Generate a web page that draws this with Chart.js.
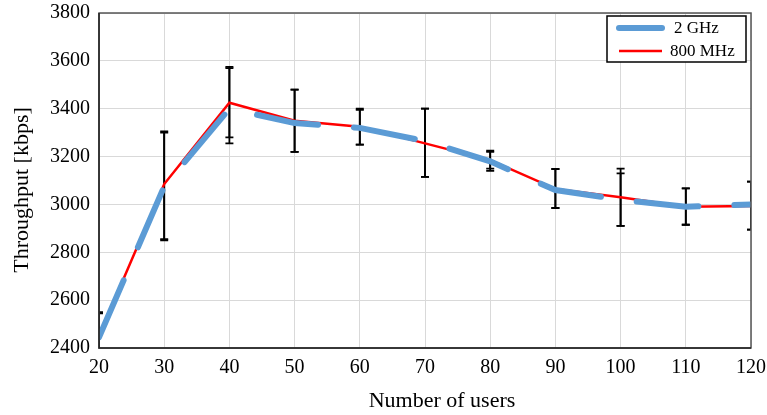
<!DOCTYPE html>
<html>
<head>
<meta charset="utf-8">
<script src="https://cdn.jsdelivr.net/npm/chart.js@4/dist/chart.umd.min.js"></script>
<style>
  html, body { margin: 0; padding: 0; background: #fff; }
  #wrap { width: 767px; height: 415px; }
</style>
</head>
<body>
<div id="wrap"><canvas id="chart" width="767" height="415"></canvas></div>
<script>
"use strict";

const users = [20, 30, 40, 50, 60, 70, 80, 90, 100, 110, 120];

const ghz2 = [2445, 3075, 3400, 3340, 3320, 3265, 3180, 3060, 3020, 2990, 3000];
const ghz2Hi = [2550, 3305, 3575, 3480, 3400, 3400, 3225, 3148, 3150, 3067, 3095];
const ghz2Lo = [2350, 2855, 3280, 3220, 3250, 3115, 3150, 2985, 2910, 2915, 2895];

const mhz800 = [2450, 3085, 3425, 3350, 3325, 3255, 3185, 3065, 3030, 2990, 2993];
const mhz800Hi = [2545, 3300, 3570, 3480, 3395, 3400, 3220, 3148, 3130, 3067, 3095];
const mhz800Lo = [2350, 2850, 3255, 3220, 3250, 3115, 3140, 2985, 2910, 2915, 2895];

const FONT = "'Liberation Serif', 'Times New Roman', serif";

function pts(ys) { return users.map((x, i) => ({ x, y: ys[i] })); }

// Error bars, clipped to the plot area, drawn under the lines.
const errorBars = {
  id: "errorBars",
  beforeDatasetsDraw(chart) {
    const { ctx, chartArea: a, scales: { x, y } } = chart;
    ctx.save();
    ctx.beginPath();
    ctx.rect(a.left, a.top, a.right - a.left, a.bottom - a.top);
    ctx.clip();
    ctx.strokeStyle = "#000";
    ctx.lineWidth = 1.8;
    chart.data.datasets.forEach((ds) => {
      users.forEach((u, i) => {
        const px = x.getPixelForValue(u);
        const hi = y.getPixelForValue(ds.errHi[i]);
        const lo = y.getPixelForValue(ds.errLo[i]);
        ctx.beginPath();
        ctx.moveTo(px, hi); ctx.lineTo(px, lo);
        ctx.moveTo(px - 4, hi); ctx.lineTo(px + 4, hi);
        ctx.moveTo(px - 4, lo); ctx.lineTo(px + 4, lo);
        ctx.stroke();
      });
    });
    ctx.restore();
  },
};

// Plot frame, axis titles and the boxed legend.
const decor = {
  id: "decor",
  afterDraw(chart) {
    const { ctx, chartArea: a } = chart;
    ctx.save();
    ctx.strokeStyle = "#555";
    ctx.lineWidth = 1.5;
    ctx.strokeRect(a.left, a.top, a.right - a.left, a.bottom - a.top);
    ctx.strokeStyle = "#222";
    ctx.beginPath();
    ctx.moveTo(a.left, a.top); ctx.lineTo(a.left, a.bottom); ctx.lineTo(a.right, a.bottom);
    ctx.stroke();

    ctx.fillStyle = "#000";
    ctx.font = "22px " + FONT;
    ctx.textAlign = "center";
    ctx.textBaseline = "alphabetic";
    ctx.fillText("Number of users", 442, 407);
    ctx.save();
    ctx.translate(28, 190);
    ctx.rotate(-Math.PI / 2);
    ctx.fillText("Throughput [kbps]", 0, 0);
    ctx.restore();

    // legend
    const lx = 607, ly = 16, lw = 139, lh = 46;
    ctx.fillStyle = "#fff";
    ctx.fillRect(lx, ly, lw, lh);
    ctx.strokeStyle = "#000";
    ctx.lineWidth = 1.5;
    ctx.strokeRect(lx, ly, lw, lh);
    chart.data.datasets.forEach((ds, i) => {
      const yy = ly + 12 + i * 23;
      ctx.strokeStyle = ds.borderColor;
      ctx.lineWidth = ds.borderWidth;
      ctx.lineCap = ds.borderCapStyle || "butt";
      ctx.beginPath();
      ctx.moveTo(lx + 12, yy); ctx.lineTo(lx + 55, yy);
      ctx.stroke();
      ctx.fillStyle = "#000";
      ctx.font = "17px " + FONT;
      ctx.textAlign = "left";
      ctx.textBaseline = "middle";
      ctx.fillText(ds.label, i === 0 ? lx + 67 : lx + 63, yy + 1);
    });
    ctx.restore();
  },
};

new Chart(document.getElementById("chart"), {
  type: "line",
  data: {
    datasets: [
      {
        label: "2 GHz",
        data: pts(ghz2),
        errHi: ghz2Hi,
        errLo: ghz2Lo,
        borderColor: "#5b9bd5",
        borderWidth: 6,
        borderDash: [62, 36],
        borderCapStyle: "round",
        pointRadius: 0,
        tension: 0,
      },
      {
        label: "800 MHz",
        data: pts(mhz800),
        errHi: mhz800Hi,
        errLo: mhz800Lo,
        borderColor: "#ff0000",
        borderWidth: 2.5,
        pointRadius: 0,
        tension: 0,
      },
    ],
  },
  options: {
    responsive: false,
    animation: false,
    devicePixelRatio: 1,
    layout: { padding: { top: 13, right: 16, left: 0, bottom: 0 } },
    plugins: { legend: { display: false }, tooltip: { enabled: false } },
    scales: {
      x: {
        type: "linear",
        min: 20,
        max: 120,
        afterFit: (s) => { s.height = 67; s.paddingLeft = 0; s.paddingRight = 0; },
        ticks: { stepSize: 10, padding: 8, color: "#000", font: { family: FONT, size: 20 } },
        grid: { color: "#d9d9d9", drawTicks: false },
        border: { display: false },
      },
      y: {
        min: 2400,
        max: 3800,
        afterFit: (s) => { s.width = 99; s.paddingTop = 0; s.paddingBottom = 0; },
        ticks: {
          stepSize: 200,
          padding: 9,
          color: "#000",
          font: { family: FONT, size: 20 },
          callback: (v) => String(v),
        },
        grid: { color: "#d9d9d9", drawTicks: false },
        border: { display: false },
      },
    },
  },
  plugins: [errorBars, decor],
});
</script>
</body>
</html>
